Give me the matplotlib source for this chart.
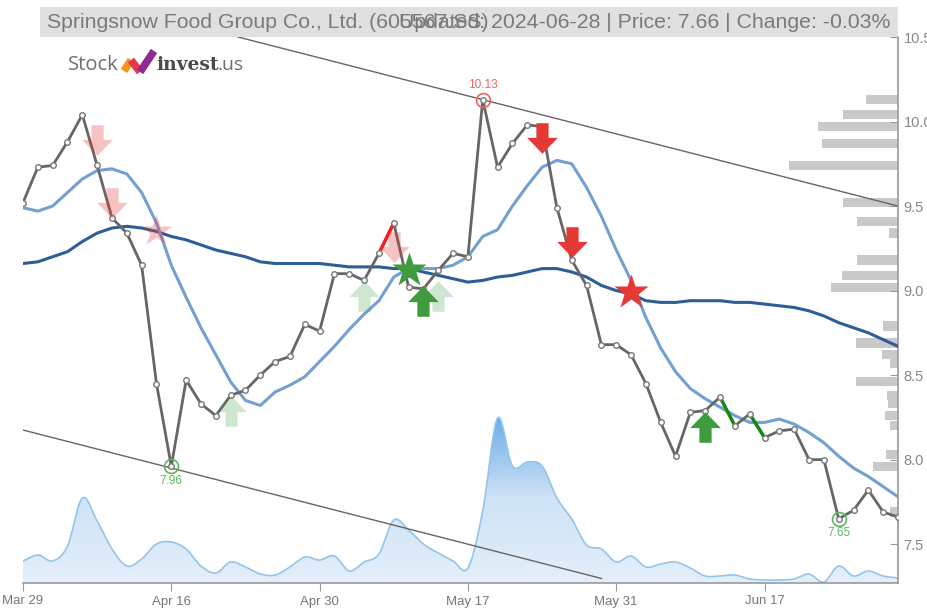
import numpy as np
import matplotlib
matplotlib.use("Agg")
import matplotlib.pyplot as plt
from matplotlib.path import Path
from matplotlib.patches import Polygon, Rectangle
from matplotlib.lines import Line2D
from matplotlib.colors import LinearSegmentedColormap

# ---------------- data ----------------
tick_pos = [0, 10, 20, 30, 40, 50]
tick_labels = ["Mar 29", "Apr 16", "Apr 30", "May 17", "May 31", "Jun 17"]

price = [9.52, 9.73, 9.74, 9.88, 10.04, 9.74, 9.43, 9.34, 9.15, 8.45,
         7.96, 8.47, 8.33, 8.26, 8.38, 8.41, 8.50, 8.58, 8.61, 8.80,
         8.76, 9.10, 9.10, 9.06, 9.22, 9.40, 9.02, 9.01, 9.12, 9.22,
         9.20, 10.13, 9.73, 9.87, 9.98, 9.97, 9.49, 9.18, 9.03, 8.68,
         8.68, 8.62, 8.45, 8.22, 8.02, 8.28, 8.29, 8.37, 8.20, 8.27,
         8.13, 8.17, 8.18, 8.00, 8.00, 7.65, 7.70, 7.82, 7.69, 7.66]

ma_short = [9.49, 9.47, 9.50, 9.58, 9.66, 9.71, 9.72, 9.69, 9.58, 9.40,
            9.15, 8.96, 8.78, 8.62, 8.46, 8.35, 8.32, 8.40, 8.44, 8.49,
            8.58, 8.67, 8.77, 8.86, 8.94, 9.08, 9.13, 9.13, 9.13, 9.15,
            9.20, 9.32, 9.36, 9.50, 9.62, 9.73, 9.77, 9.75, 9.61, 9.44,
            9.24, 9.06, 8.84, 8.66, 8.52, 8.42, 8.36, 8.31, 8.26, 8.22,
            8.22, 8.24, 8.21, 8.16, 8.10, 8.02, 7.95, 7.90, 7.84, 7.78]

ma_long = [9.16, 9.17, 9.20, 9.23, 9.29, 9.34, 9.37, 9.38, 9.37, 9.35,
           9.32, 9.30, 9.27, 9.24, 9.22, 9.20, 9.17, 9.16, 9.16, 9.16,
           9.16, 9.15, 9.14, 9.14, 9.14, 9.13, 9.13, 9.11, 9.09, 9.07,
           9.05, 9.06, 9.08, 9.09, 9.11, 9.13, 9.13, 9.11, 9.08, 9.03,
           9.00, 8.98, 8.94, 8.93, 8.93, 8.94, 8.94, 8.94, 8.93, 8.93,
           8.92, 8.91, 8.90, 8.88, 8.85, 8.81, 8.78, 8.75, 8.71, 8.67]

volume = [22, 28, 22, 37, 85, 62, 34, 17, 24, 39,
          41, 34, 17, 10, 21, 16, 9, 8, 16, 26,
          23, 27, 12, 21, 29, 63, 53, 39, 30, 22,
          15, 72, 165, 117, 121, 117, 85, 64, 38, 34,
          21, 27, 16, 19, 21, 15, 7, 7, 8, 4,
          3, 3, 4, 9, 1, 17, 7, 12, 7, 5]

vp_price = [10.13, 10.04, 9.97, 9.87, 9.74, 9.52, 9.41, 9.34, 9.18, 9.09,
            9.02, 8.79, 8.69, 8.62, 8.57, 8.46, 8.38, 8.33, 8.26, 8.20,
            8.03, 7.96, 7.69]
vp_size = [32, 55, 80, 76, 109, 55, 41, 9, 41, 56,
           67, 15, 42, 16, 8, 42, 11, 10, 13, 8,
           12, 25, 8]

upper_x = [14.5, 59]
upper_y = [10.50, 9.50]
lower_x = [0, 39]
lower_y = [8.175, 7.297]

red_seg = [(24, 25)]
green_seg = [(47, 48), (49, 50)]

sell_arrows = [(35, 9.90), (37, 9.29)]
sell_arrows_light = [(5, 9.89), (6, 9.52), (25, 9.26)]
buy_arrows = [(27, 8.94), (46, 8.19)]
buy_arrows_light = [(14, 8.29), (23, 8.97), (28, 8.97)]
stars_red = [(41, 8.99)]
stars_red_light = [(9, 9.35)]
stars_green = [(26, 9.12)]

extremes = [(31, 10.13, "10.13", "high"), (10, 7.96, "7.96", "low"), (55, 7.65, "7.65", "low")]

title_left = "Springsnow Food Group Co., Ltd. (605567.SS)"
title_right = "Updated: 2024-06-28 | Price: 7.66 | Change: -0.03%"

# ---------------- figure ----------------
W, H = 928, 608
fig = plt.figure(figsize=(W / 100, H / 100), dpi=100)
fig.patch.set_facecolor("white")

def fx(x):
    return x / W

def fy(y):
    return 1 - y / H

L, R, T, B = 23, 898, 37, 583
pos = [fx(L), fy(B), (R - L) / W, (B - T) / H]

xlim = (0, 59)
ylim = (7.27, 10.5)
N = len(price)
x = np.arange(N)

sans = ["Liberation Sans", "DejaVu Sans"]

# volume axes (bottom layer)
ax_vol = fig.add_axes(pos, zorder=0)
ax_vol.axis("off")

def catmull(xv, yv, n=12):
    xv = np.asarray(xv, float)
    yv = np.asarray(yv, float)
    P = np.column_stack([xv, yv])
    P = np.vstack([P[0] * 2 - P[1], P, P[-1] * 2 - P[-2]])
    out = []
    for i in range(1, len(P) - 2):
        p0, p1, p2, p3 = P[i - 1], P[i], P[i + 1], P[i + 2]
        t = np.linspace(0, 1, n, endpoint=False)[:, None]
        seg = 0.5 * ((2 * p1) + (-p0 + p2) * t + (2 * p0 - 5 * p1 + 4 * p2 - p3) * t ** 2
                     + (-p0 + 3 * p1 - 3 * p2 + p3) * t ** 3)
        out.append(seg)
    out.append(P[-2][None, :])
    out = np.vstack(out)
    return out[:, 0], np.clip(out[:, 1], 0, None)

vx, vy = catmull(x, volume)
verts = np.column_stack([np.r_[vx, vx[::-1]], np.r_[vy, np.zeros_like(vy)]])
clip = Polygon(verts, closed=True, facecolor="none", edgecolor="none",
               transform=ax_vol.transData)
ax_vol.add_patch(clip)
cmap = LinearSegmentedColormap.from_list("v", ["#e4effa", "#cfe3f6", "#66abe4"])
grad = np.linspace(0, 1, 256).reshape(-1, 1)
im = ax_vol.imshow(grad, extent=[xlim[0], xlim[1], 0, 170], origin="lower",
                   aspect="auto", cmap=cmap, zorder=1)
im.set_clip_path(clip)
ax_vol.plot(vx, vy, color="#93c5ec", lw=1.2, zorder=2)
ax_vol.set_xlim(*xlim)
ax_vol.set_ylim(0, B - T)

# volume profile axes
ax_vp = fig.add_axes(pos, zorder=0.5)
ax_vp.patch.set_visible(False)
ax_vp.axis("off")
ax_vp.barh(vp_price, vp_size, height=0.055, left=0, color="#c9c9c9", edgecolor="none")
ax_vp.set_xlim(R - L, 0)
ax_vp.set_ylim(*ylim)

# main axes
ax = fig.add_axes(pos, zorder=2)
ax.patch.set_visible(False)
ax.set_xlim(*xlim)
ax.set_ylim(*ylim)

# trend lines
ax.plot(upper_x, upper_y, color="#666666", lw=1.0, zorder=2)
ax.plot(lower_x, lower_y, color="#666666", lw=1.0, zorder=2)

# moving averages
ax.plot(x, ma_long, color="#2d5e96", lw=2.2, zorder=3)
ax.plot(x, ma_short, color="#72a0d0", lw=2.2, zorder=3)

# price
ax.plot(x, price, color="#666666", lw=2.0, zorder=4)
for a, b in red_seg:
    ax.plot([a, b], [price[a], price[b]], color="#ff1a1a", lw=2.4, zorder=5)
for a, b in green_seg:
    ax.plot([a, b], [price[a], price[b]], color="#118811", lw=2.4, zorder=5)
ax.plot(x, price, ls="none", marker="o", ms=4, mfc="white", mec="#777777",
        mew=1.0, zorder=6)

# arrow markers
down = Path([(-0.2, 0.5), (0.2, 0.5), (0.2, 0.02), (0.5, 0.02), (0.0, -0.5),
             (-0.5, 0.02), (-0.2, 0.02), (-0.2, 0.5)], closed=True)
up = Path([(-0.2, -0.5), (0.2, -0.5), (0.2, -0.02), (0.5, -0.02), (0.0, 0.5),
           (-0.5, -0.02), (-0.2, -0.02), (-0.2, -0.5)], closed=True)

def mark(points, marker, color, ms, alpha=1.0):
    if not points:
        return
    px = [p[0] for p in points]
    py = [p[1] for p in points]
    ax.plot(px, py, ls="none", marker=marker, ms=ms, mfc=color, mec="none",
            alpha=alpha, zorder=7)

mark(sell_arrows_light, down, "#e53935", 22, 0.3)
mark(buy_arrows_light, up, "#43a047", 22, 0.25)
mark(stars_red_light, "*", "#e53935", 24, 0.3)
mark(sell_arrows, down, "#e53935", 22)
mark(buy_arrows, up, "#3e9c3e", 22)
mark(stars_red, "*", "#e53935", 26)
mark(stars_green, "*", "#3e9c3e", 26)

# extremes
for xi, yv, lab, kind in extremes:
    c = "#f06262" if kind == "high" else "#5cb85c"
    ax.plot([xi], [yv], ls="none", marker="o", ms=10, mfc="none", mec=c, mew=1.2, zorder=8)
    if kind == "high":
        ax.annotate(lab, (xi, yv), xytext=(0, 6), textcoords="offset points",
                    ha="center", va="bottom", color=c, fontsize=8.5, zorder=8,
                    fontfamily=sans)
    else:
        ax.annotate(lab, (xi, yv), xytext=(0, -6), textcoords="offset points",
                    ha="center", va="top", color=c, fontsize=8.5, zorder=8,
                    fontfamily=sans)

# axes styling
for s in ["top", "left"]:
    ax.spines[s].set_visible(False)
ax.spines["right"].set_color("#999999")
ax.spines["bottom"].set_color("#999999")
ax.spines["right"].set_linewidth(1.2)
ax.spines["bottom"].set_linewidth(1.2)
ax.yaxis.tick_right()
ax.set_yticks([7.5, 8.0, 8.5, 9.0, 9.5, 10.0, 10.5])
ax.set_yticklabels(["7.5", "8.0", "8.5", "9.0", "9.5", "10.0", "10.5"], fontfamily=sans)
ax.tick_params(axis="y", direction="in", length=6, color="#999999",
               labelcolor="#888888", labelsize=10.5, pad=4)
ax.set_xticks(tick_pos)
ax.set_xticklabels(tick_labels, fontfamily=sans)
ax.tick_params(axis="x", direction="out", length=6, color="#999999",
               labelcolor="#777777", labelsize=9.5, pad=3)

# title bar
fig.add_artist(Rectangle((fx(40), fy(37)), (898 - 40) / W, 30 / H,
                         transform=fig.transFigure, facecolor="#e0e0e0",
                         edgecolor="none", zorder=5))
fig.text(fx(47), fy(22), title_left, ha="left", va="center", color="#7a7a7a",
         fontsize=15.3, fontfamily=sans, zorder=6)
fig.text(fx(890), fy(22), title_right, ha="right", va="center", color="#7a7a7a",
         fontsize=15.3, fontfamily=sans, zorder=6)

# logo
fig.text(fx(68), fy(65), "Stock", ha="left", va="center", color="#6f6f6f",
         fontsize=14.5, fontfamily=["Open Sans", "DejaVu Sans"], zorder=6)
fig.text(fx(156), fy(65), "invest", ha="left", va="center", color="#4a4a4a",
         fontsize=13.5, fontweight="bold", fontfamily=["DejaVu Serif"], zorder=6)
fig.text(fx(218), fy(65), ".us", ha="left", va="center", color="#6f6f6f",
         fontsize=14, fontfamily=["Open Sans", "DejaVu Sans"], zorder=6)
segs = [((124, 71), (131, 60), "#f7941d"),
        ((131, 60), (140, 72), "#e8384f"),
        ((140, 72), (154, 51), "#8e2b8f")]
for (x0, y0), (x1, y1), c in segs:
    fig.add_artist(Line2D([fx(x0), fx(x1)], [fy(y0), fy(y1)], transform=fig.transFigure,
                          color=c, lw=5.5, solid_capstyle="butt", zorder=6))

fig.savefig("out.png", dpi=100)
